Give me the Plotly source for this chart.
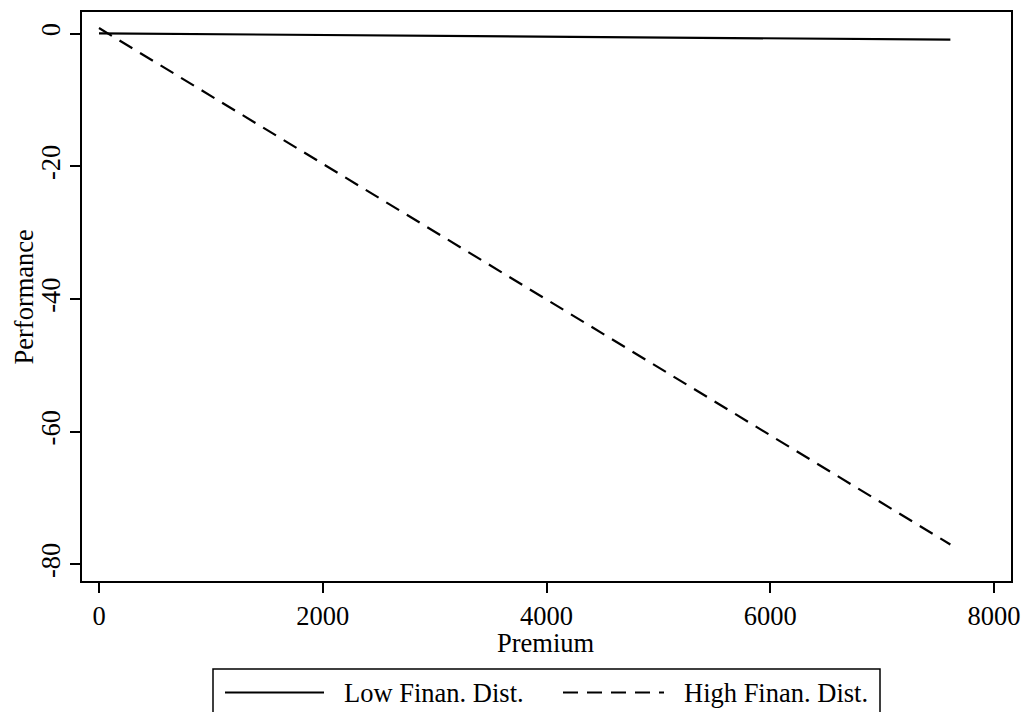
import plotly.graph_objects as go

# ---- data ----
premium = [0, 7610]
low_fin_dist = [0.05, -0.9]
high_fin_dist = [0.85, -77.0]
series_names = ["Low Finan. Dist.", "High Finan. Dist."]
x_ticks = [0, 2000, 4000, 6000, 8000]
x_tick_labels = ["0", "2000", "4000", "6000", "8000"]
y_ticks = [0, -20, -40, -60, -80]
y_tick_labels = ["0", "-20", "-40", "-60", "-80"]
x_title = "Premium"
y_title = "Performance"

W, H = 1026, 712
L, R, T, B = 82, 15, 12, 131
PW, PH = W - L - R, H - T - B

def px_x(p):
    return (p - L) / PW

def px_y(p):
    return (H - B - p) / PH

FONT = dict(family="Liberation Serif, Times New Roman, serif", size=26.5, color="black")
DASH = "15px,9px"

fig = go.Figure()
fig.add_trace(go.Scatter(x=premium, y=low_fin_dist, mode="lines", name=series_names[0],
                         line=dict(color="black", width=2.2)))
fig.add_trace(go.Scatter(x=premium, y=high_fin_dist, mode="lines", name=series_names[1],
                         line=dict(color="black", width=2.2, dash=DASH)))

fig.update_layout(
    width=W, height=H,
    margin=dict(l=L, r=R, t=T, b=B),
    plot_bgcolor="white", paper_bgcolor="white",
    font=FONT, showlegend=False,
)
axis_common = dict(
    ticks="outside", ticklen=10, tickwidth=1.5, tickcolor="black",
    showline=True, linecolor="black", linewidth=1.5, mirror=True,
    showgrid=False, zeroline=False, tickfont=FONT, automargin=False,
)
fig.update_xaxes(range=[-152, 8152], tickvals=x_ticks, ticktext=x_tick_labels, **axis_common)
fig.update_yaxes(range=[-82.5, 3.27], tickvals=y_ticks, ticktext=y_tick_labels,
                 tickangle=-90, **axis_common)

# ---- axis titles ----
fig.add_annotation(xref="paper", yref="paper", x=px_x(546), y=px_y(643),
                   text=x_title, showarrow=False, xanchor="center", yanchor="middle", font=FONT)
fig.add_annotation(xref="paper", yref="paper", x=px_x(23), y=px_y(296.5),
                   text=y_title, showarrow=False, xanchor="center", yanchor="middle",
                   textangle=-90, font=FONT)

# ---- legend drawn by hand (Stata style, long keys) ----
fig.add_shape(type="rect", xref="paper", yref="paper",
              x0=px_x(213), x1=px_x(880), y0=px_y(669), y1=px_y(740),
              line=dict(color="black", width=1.5), fillcolor="white", layer="above")
leg_y = 692.5
fig.add_shape(type="line", xref="paper", yref="paper",
              x0=px_x(225), x1=px_x(324), y0=px_y(leg_y), y1=px_y(leg_y),
              line=dict(color="black", width=2.2))
fig.add_shape(type="line", xref="paper", yref="paper",
              x0=px_x(563), x1=px_x(664), y0=px_y(leg_y), y1=px_y(leg_y),
              line=dict(color="black", width=2.2, dash=DASH))
fig.add_annotation(xref="paper", yref="paper", x=px_x(342), y=px_y(leg_y),
                   text=series_names[0], showarrow=False, xanchor="left", yanchor="middle",
                   font=FONT)
fig.add_annotation(xref="paper", yref="paper", x=px_x(682), y=px_y(leg_y),
                   text=series_names[1], showarrow=False, xanchor="left", yanchor="middle",
                   font=FONT)

fig.write_html("out.html", config={"displayModeBar": False},
               post_script="document.body.style.margin='0';document.body.style.overflow='hidden';")
